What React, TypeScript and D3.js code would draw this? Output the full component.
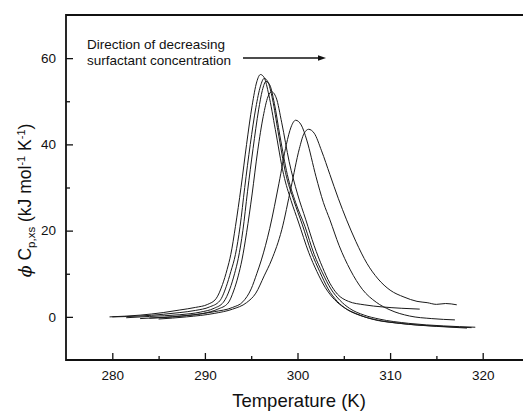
import React, { useEffect, useRef } from "react";
import * as d3 from "d3";

const W = 523;
const H = 411;

// axis ticks
const xMajor = [280, 290, 300, 310, 320];
const xMinor = [285, 295, 305, 315];
const yMajor = [0, 20, 40, 60];
const yMinor = [10, 30, 50];

// excess heat capacity curves, [T (K), phi Cp,xs (kJ/mol/K)]
const curveA: [number, number][] = [
  [279.7, 0], [283, 0.4], [285.5, 1.0], [287.3, 1.6], [289, 2.2], [290.3, 2.9], [291.2, 4.2],
  [291.9, 7.5], [292.4, 11], [292.8, 14.5], [293.3, 21], [293.9, 30], [294.5, 40], [295.1, 49],
  [295.6, 54.5], [296.0, 56.2], [296.4, 55.5], [296.9, 51.5], [297.6, 43.5], [298.5, 33],
  [299.3, 27], [300.1, 22], [301.2, 15], [302.1, 10.5], [303, 6.8], [304, 4], [305, 2.2],
  [306.5, 0.6], [308, -0.5], [311, -1.5], [315, -2.2], [318.3, -2.6],
];
const curveB: [number, number][] = [
  [280, 0], [283, 0.2], [285.5, 0.6], [287.3, 1.0], [289, 1.5], [290.5, 2.3], [291.6, 3.7],
  [292.3, 7], [292.8, 10.5], [293.3, 14.5], [293.8, 21], [294.3, 30], [294.9, 40], [295.5, 48.5],
  [296.0, 53.5], [296.4, 55.3], [296.8, 54.5], [297.3, 50.5], [297.9, 43], [298.7, 33.5],
  [299.6, 27], [300.5, 21.5], [301.5, 15], [302.4, 10.5], [303.3, 6.5], [304.3, 3.6],
  [305.3, 1.8], [306.8, 0.3], [308.3, -0.6], [311.5, -1.6], [315.5, -2.2], [318.8, -2.5],
];
const curveC: [number, number][] = [
  [281.5, -0.2], [284, 0.1], [287.3, 0.5], [289.5, 1.1], [291, 2.0], [292, 3.4], [292.7, 6.5],
  [293.2, 10], [293.6, 13.5], [294.1, 20], [294.6, 29], [295.2, 39], [295.8, 48], [296.2, 52.5],
  [296.6, 54.6], [297.0, 53.8], [297.5, 49.5], [298.1, 42], [298.9, 33], [299.8, 26.5],
  [300.8, 21], [301.8, 14.5], [302.7, 10.2], [303.6, 6.5], [304.6, 3.8], [305.6, 2.0],
  [307.2, 0.4], [308.8, -0.5], [312, -1.5], [315.8, -2.1], [319.2, -2.4],
];
const curveD: [number, number][] = [
  [283, -0.4], [285.5, -0.1], [287.5, 0.2], [289.8, 0.8], [291.4, 1.8], [292.5, 3.2], [293.1, 6],
  [293.6, 9.5], [294.0, 13.2], [294.5, 19.5], [295.1, 28.5], [295.7, 38.5], [296.3, 46.5],
  [296.8, 51], [297.2, 52.2], [297.7, 50.8], [298.3, 45], [299.1, 36], [300, 28.5],
  [300.9, 22.5], [301.8, 16.5], [302.7, 11.5], [303.5, 7.8], [304.3, 5.3], [305.5, 3.6],
  [307.2, 2.8], [309.2, 2.3], [311.2, 2.0], [313.2, 1.8],
];
const curveE: [number, number][] = [
  [284, -0.3], [286, -0.1], [288, 0.3], [291, 1.2], [293, 2.2], [294.1, 3.5], [295, 6.5],
  [295.6, 10], [296.1, 13.2], [297, 20.5], [298, 31], [298.8, 40], [299.3, 44], [299.8, 45.6],
  [300.4, 44.5], [301, 41], [302, 32.5], [302.8, 26.5], [303.5, 22.5], [304.5, 16.5],
  [305.7, 10.9], [307, 6.4], [308.5, 3.4], [310, 1.6], [312.1, 0.2], [314.5, -0.4], [317, -0.7],
];
const curveF: [number, number][] = [
  [285, -0.5], [288, 0], [291, 0.8], [293, 1.8], [294.5, 3.3], [295.5, 5.5], [296.4, 9.5],
  [297.2, 13.2], [298.3, 20.2], [299.3, 30], [300.2, 39], [300.7, 42.5], [301.2, 43.5],
  [301.8, 42.6], [302.6, 38.5], [303.5, 33], [304.4, 27.5], [305.3, 22.5], [306.3, 17.5],
  [307.5, 12.4], [308.7, 8.8], [310, 6.2], [311.5, 4.6], [312.9, 3.6], [314, 3.3], [315, 2.9],
  [316, 3.1], [317.2, 2.8],
];

const curves = [curveA, curveB, curveC, curveD, curveE, curveF];

const margin = { left: 66, top: 15, bottom: 51 };

export default function App() {
  const ref = useRef<SVGSVGElement>(null);

  useEffect(() => {
    const svg = d3.select(ref.current);
    svg.selectAll("*").remove();

    const plotH = H - margin.top - margin.bottom;
    const x = d3.scaleLinear().domain([275, 325]).range([margin.left, margin.left + 463]);
    const y = d3.scaleLinear().domain([-10, 70]).range([H - margin.bottom, margin.top]);

    const font = "Arial, 'Liberation Sans', sans-serif";

    // minor ticks
    svg.append("g")
      .attr("transform", `translate(0,${H - margin.bottom})`)
      .call(d3.axisBottom(x).tickValues(xMinor).tickSizeInner(-4).tickSizeOuter(0).tickFormat(() => ""))
      .call(g => g.select(".domain").remove());
    svg.append("g")
      .attr("transform", `translate(${margin.left},0)`)
      .call(d3.axisLeft(y).tickValues(yMinor).tickSizeInner(-4).tickSizeOuter(0).tickFormat(() => ""))
      .call(g => g.select(".domain").remove());

    // major ticks
    const xa = svg.append("g")
      .attr("transform", `translate(0,${H - margin.bottom})`)
      .call(d3.axisBottom(x).tickValues(xMajor).tickSizeInner(-7).tickSizeOuter(0).tickPadding(10))
      .call(g => g.select(".domain").remove());
    const ya = svg.append("g")
      .attr("transform", `translate(${margin.left},0)`)
      .call(d3.axisLeft(y).tickValues(yMajor).tickSizeInner(-7).tickSizeOuter(0).tickPadding(10))
      .call(g => g.select(".domain").remove());

    svg.selectAll(".tick line").attr("stroke", "#111").attr("stroke-width", 1.3);
    [xa, ya].forEach(a => a.selectAll("text")
      .attr("font-family", font).attr("font-size", 13.5).attr("fill", "#111"));

    // frame: left, top, bottom
    const right = x(325);
    svg.append("path")
      .attr("d", `M${right},${margin.top}H${margin.left}V${H - margin.bottom}H${right}`)
      .attr("fill", "none").attr("stroke", "#111").attr("stroke-width", 1.8);

    // curves
    const line = d3.line<[number, number]>()
      .x(d => x(d[0]))
      .y(d => y(d[1]))
      .curve(d3.curveMonotoneX);
    svg.append("g").selectAll("path").data(curves).enter().append("path")
      .attr("d", d => line(d))
      .attr("fill", "none")
      .attr("stroke", "#1a1a1a")
      .attr("stroke-width", 1);

    // annotation
    const ann = svg.append("text")
      .attr("font-family", font).attr("font-size", 13.5).attr("fill", "#111");
    ann.append("tspan").attr("x", 87).attr("y", 49).text("Direction of decreasing");
    ann.append("tspan").attr("x", 87).attr("y", 65).text("surfactant concentration");

    svg.append("line")
      .attr("x1", 243).attr("x2", 320).attr("y1", 58).attr("y2", 58)
      .attr("stroke", "#111").attr("stroke-width", 1.3);
    svg.append("path")
      .attr("d", "M326,58L318,55.3L318,60.7Z")
      .attr("fill", "#111");

    // axis titles
    svg.append("text")
      .attr("x", 299).attr("y", 407)
      .attr("text-anchor", "middle")
      .attr("font-family", font).attr("font-size", 18.5).attr("fill", "#111")
      .text("Temperature (K)");

    const yl = svg.append("text")
      .attr("transform", `translate(31,${margin.top + plotH / 2 + 13}) rotate(-90)`)
      .attr("text-anchor", "middle")
      .attr("font-family", font).attr("font-size", 17.5).attr("fill", "#111");
    yl.append("tspan").attr("font-style", "italic").attr("font-family", "'DejaVu Serif', serif").text("\u03D5");
    yl.append("tspan").text(" C");
    yl.append("tspan").attr("font-size", 11.5).attr("dy", 4).text("p,xs");
    yl.append("tspan").attr("dy", -4).text(" (kJ mol");
    yl.append("tspan").attr("font-size", 11).attr("dy", -6).text("-1");
    yl.append("tspan").attr("dy", 6).text(" K");
    yl.append("tspan").attr("font-size", 11).attr("dy", -6).text("-1");
    yl.append("tspan").attr("dy", 6).text(")");
  }, []);

  return (
    <svg
      ref={ref}
      width={W}
      height={H}
      style={{ position: "absolute", left: 0, top: 0, background: "#fff" }}
    />
  );
}
